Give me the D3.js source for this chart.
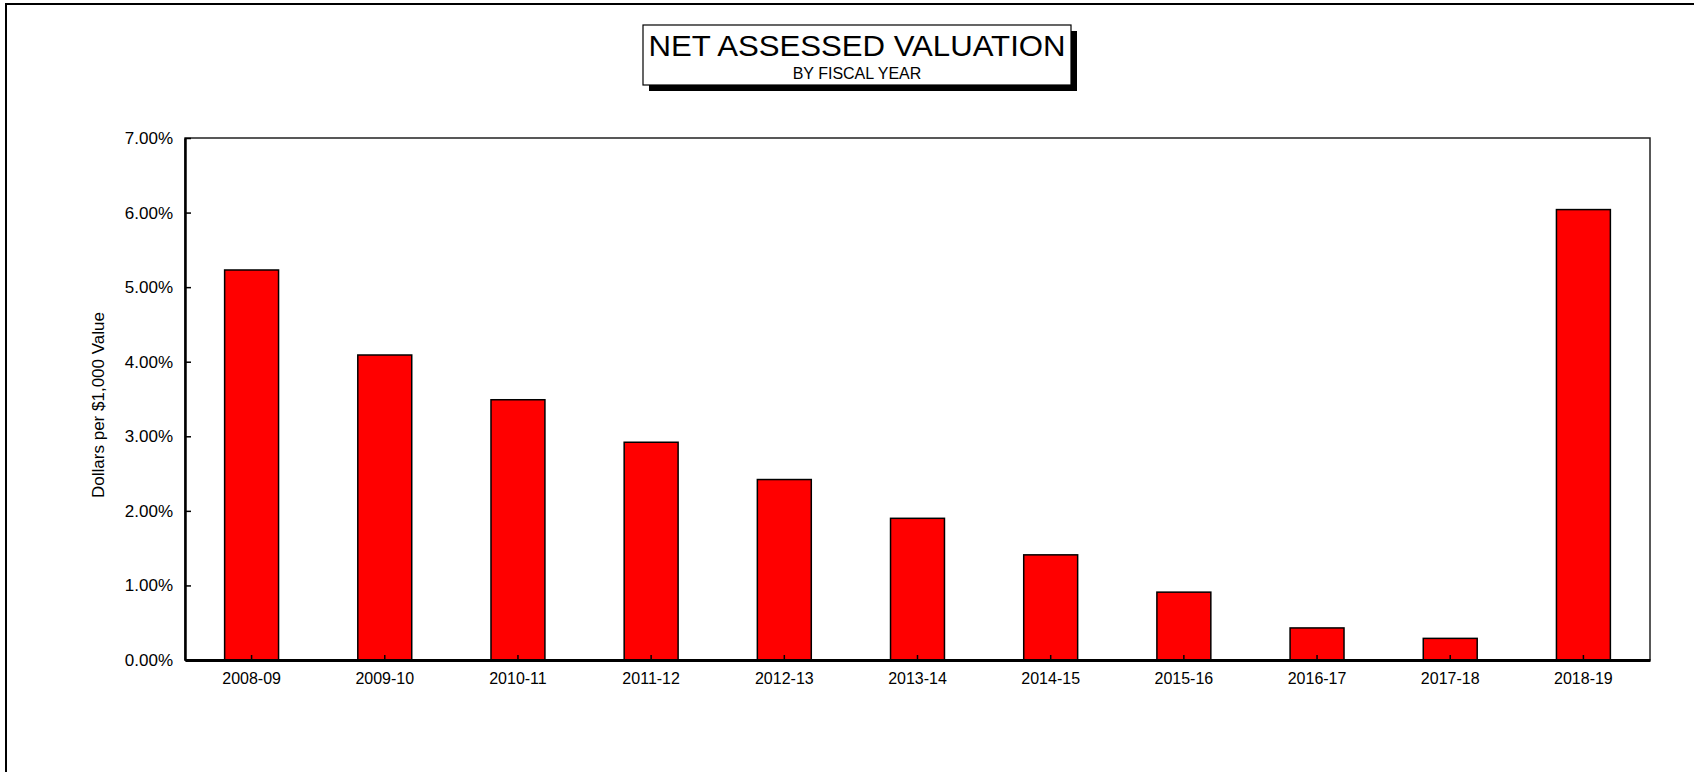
<!DOCTYPE html>
<html>
<head>
<meta charset="utf-8">
<script src="https://cdn.jsdelivr.net/npm/d3@7"></script>
<style>
  body { margin: 0; background: #fff; }
  text { font-family: "Liberation Sans", Arial, sans-serif; fill: #000; }
</style>
</head>
<body>
<div id="chart"></div>
<script>
  // data
  var years = ["2008-09", "2009-10", "2010-11", "2011-12", "2012-13", "2013-14",
    "2014-15", "2015-16", "2016-17", "2017-18", "2018-19"];
  var rates = [5.23, 4.09, 3.49, 2.92, 2.42, 1.90, 1.41, 0.91, 0.43, 0.29, 6.04];
  var yTicks = [0, 1, 2, 3, 4, 5, 6, 7];

  var W = 1694, H = 772;
  var margin = {top: 138, right: 44, bottom: 112, left: 185},
    width = W - margin.left - margin.right,
    height = H - margin.top - margin.bottom;

  var svg = d3.select("#chart").append("svg")
    .attr("width", W)
    .attr("height", H);

  // outer frame, runs off right and bottom
  svg.append("rect")
    .attr("x", 6).attr("y", 4)
    .attr("width", W + 20).attr("height", H + 20)
    .attr("fill", "none")
    .attr("stroke", "#000")
    .attr("stroke-width", 2);

  // title box with drop shadow
  var tb = {x: 643, y: 25, w: 428, h: 60};
  svg.append("rect")
    .attr("x", tb.x + 6).attr("y", tb.y + 6)
    .attr("width", tb.w).attr("height", tb.h)
    .attr("fill", "#000");
  svg.append("rect")
    .attr("x", tb.x).attr("y", tb.y)
    .attr("width", tb.w).attr("height", tb.h)
    .attr("fill", "#fff")
    .attr("stroke", "#000")
    .attr("stroke-width", 1.2);
  svg.append("text")
    .attr("x", tb.x + tb.w / 2).attr("y", tb.y + 31)
    .attr("text-anchor", "middle")
    .attr("font-size", 30)
    .attr("textLength", 417)
    .attr("lengthAdjust", "spacingAndGlyphs")
    .text("NET ASSESSED VALUATION");
  svg.append("text")
    .attr("x", tb.x + tb.w / 2).attr("y", tb.y + 54)
    .attr("text-anchor", "middle")
    .attr("font-size", 16)
    .text("BY FISCAL YEAR");

  var g = svg.append("g")
    .attr("transform", "translate(" + margin.left + "," + margin.top + ")");

  var x = d3.scaleBand().domain(years).range([0, width]).padding(0);
  var y = d3.scaleLinear().domain([0, 7]).range([height, 0]);
  var barW = x.bandwidth() * 0.405;

  // plot frame top/right
  g.append("rect")
    .attr("width", width).attr("height", height)
    .attr("fill", "none")
    .attr("stroke", "#222")
    .attr("stroke-width", 1.5);

  // bars
  g.selectAll(".bar")
    .data(rates)
    .enter().append("rect")
    .attr("class", "bar")
    .attr("x", function (d, i) { return x(years[i]) + (x.bandwidth() - barW) / 2; })
    .attr("y", function (d) { return y(d); })
    .attr("width", barW)
    .attr("height", function (d) { return height - y(d); })
    .attr("fill", "#ff0000")
    .attr("stroke", "#000")
    .attr("stroke-width", 1.5);

  // y axis, ticks pointing inward
  var yAxis = g.append("g")
    .call(d3.axisLeft(y).tickValues(yTicks).tickSizeInner(-6).tickSizeOuter(0)
      .tickPadding(12)
      .tickFormat(function (d) { return d.toFixed(2) + "%"; }));
  yAxis.select(".domain").attr("stroke", "#000").attr("stroke-width", 2.5);
  yAxis.selectAll(".tick line").attr("stroke", "#000").attr("stroke-width", 1.5);
  yAxis.selectAll("text").attr("font-size", 17).attr("font-family", "Liberation Sans, Arial, sans-serif");

  // x axis, small ticks pointing up
  var xAxis = g.append("g")
    .attr("transform", "translate(0," + height + ")")
    .call(d3.axisBottom(x).tickSizeInner(-5).tickSizeOuter(0).tickPadding(13));
  xAxis.select(".domain").attr("stroke", "#000").attr("stroke-width", 3);
  xAxis.selectAll(".tick line").attr("stroke", "#000").attr("stroke-width", 1.5);
  xAxis.selectAll("text").attr("font-size", 16).attr("font-family", "Liberation Sans, Arial, sans-serif");

  // y axis title
  svg.append("text")
    .attr("transform", "translate(104," + (margin.top + height / 2 + 6) + ") rotate(-90)")
    .attr("text-anchor", "middle")
    .attr("font-size", 17)
    .text("Dollars per $1,000 Value");
</script>
</body>
</html>
